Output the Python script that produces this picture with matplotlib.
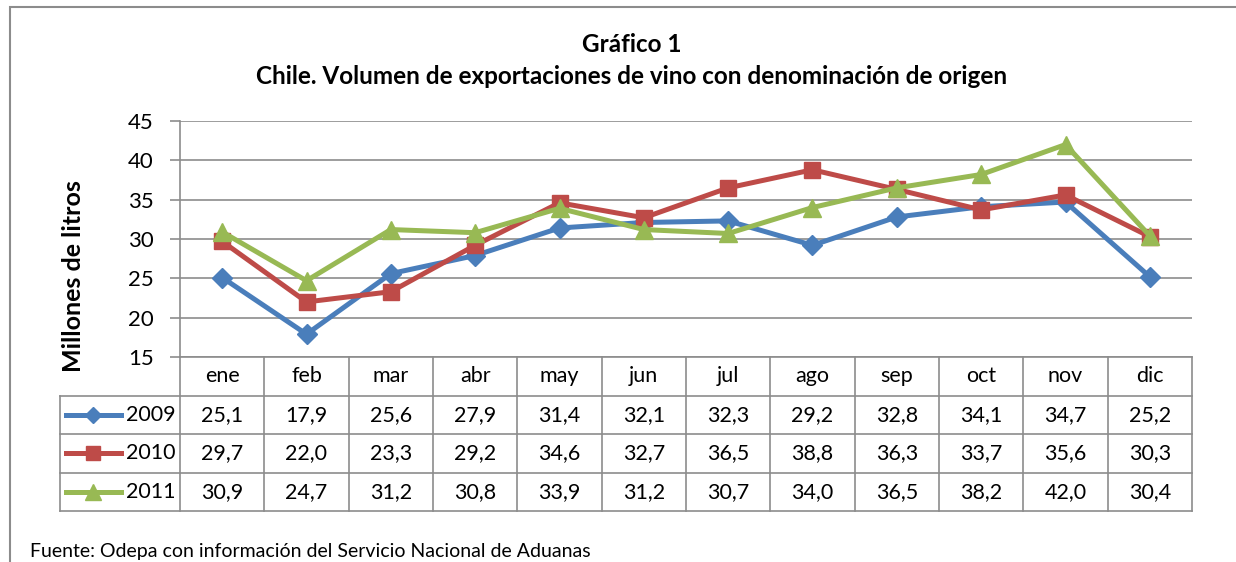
import matplotlib.pyplot as plt
from matplotlib.patches import Rectangle
from matplotlib.lines import Line2D
from matplotlib.transforms import blended_transform_factory

plt.rcParams['font.family'] = ['Lato', 'DejaVu Sans']

meses = ['ene', 'feb', 'mar', 'abr', 'may', 'jun', 'jul', 'ago', 'sep', 'oct', 'nov', 'dic']
anios = ['2009', '2010', '2011']
v2009 = [25.1, 17.9, 25.6, 27.9, 31.4, 32.1, 32.3, 29.2, 32.8, 34.1, 34.7, 25.2]
v2010 = [29.7, 22.0, 23.3, 29.2, 34.6, 32.7, 36.5, 38.8, 36.3, 33.7, 35.6, 30.3]
v2011 = [30.9, 24.7, 31.2, 30.8, 33.9, 31.2, 30.7, 34.0, 36.5, 38.2, 42.0, 30.4]
y_ticks = [15, 20, 25, 30, 35, 40, 45]

colores = ['#4A7EBB', '#BE4B48', '#98B954']
marcadores = ['D', 's', '^']
tam_marc = [10, 12, 13]
series = [v2009, v2010, v2011]

W, H = 1236, 562
fig = plt.figure(figsize=(W / 100, H / 100), dpi=100)
ax = fig.add_axes([180 / W, 1 - 357 / H, 1012 / W, 236 / H])

x = list(range(len(meses)))
for vals, c, m, ms in zip(series, colores, marcadores, tam_marc):
    ax.plot(x, vals, color=c, lw=3.6, marker=m, ms=ms, zorder=3, clip_on=False)

ax.set_xlim(-0.5, 11.5)
ax.set_ylim(15, 45)
ax.set_yticks(y_ticks)
ax.set_xticks([])
ax.grid(axis='y', color='#8c8c8c', lw=1.2)
ax.set_axisbelow(True)
for s in ['top', 'right', 'bottom']:
    ax.spines[s].set_visible(False)
ax.spines['left'].set_color('#8c8c8c')
ax.spines['left'].set_linewidth(1.2)
ax.tick_params(axis='y', length=7, color='#8c8c8c', width=1.2, labelsize=16, pad=12)
ax.set_ylabel('Millones de litros', fontsize=18, fontweight='bold')
ax.yaxis.set_label_coords((85 - 180) / 1012, (357 - 276) / 236)

# tabla de datos
tr = blended_transform_factory(ax.transData, ax.transAxes)
rh = 38.5 / 236
xl = -0.5 - 120 / (1012 / 12)
gris = '#8c8c8c'
kw = dict(color=gris, lw=1.2, transform=tr, clip_on=False)
# líneas horizontales
ax.add_line(Line2D([-0.5, 11.5], [0, 0], **kw))
for r in range(1, 5):
    ax.add_line(Line2D([xl, 11.5], [-r * rh, -r * rh], **kw))
# líneas verticales
ax.add_line(Line2D([xl, xl], [-rh, -4 * rh], **kw))
for i in range(13):
    ax.add_line(Line2D([i - 0.5, i - 0.5], [0, -4 * rh], **kw))
for i, mes in enumerate(meses):
    ax.text(i, -0.5 * rh, mes, transform=tr, ha='center', va='center', fontsize=15.5)
for r, (anio, vals, c, m, ms) in enumerate(zip(anios, series, colores, marcadores, tam_marc)):
    yc = -(r + 1.5) * rh
    for i, v in enumerate(vals):
        ax.text(i, yc, f'{v:.1f}'.replace('.', ','), transform=tr, ha='center', va='center', fontsize=15.5)
    ax.add_line(Line2D([xl + 0.07, xl + 0.72], [yc, yc], color=c, lw=3.6, transform=tr, clip_on=False))
    ax.add_line(Line2D([xl + 0.395], [yc], color=c, marker=m, ms=ms * 0.85, lw=0, transform=tr, clip_on=False))
    ax.text(-0.55, yc, anio, transform=tr, ha='right', va='center', fontsize=15.5)

# títulos
fig.text(632 / W, 1 - 45 / H, 'Gráfico 1', ha='center', va='center', fontsize=17.5, fontweight='bold')
fig.text(632 / W, 1 - 76 / H, 'Chile. Volumen de exportaciones de vino con denominación de origen',
         ha='center', va='center', fontsize=17.5, fontweight='bold')
fig.text(30 / W, 1 - 552 / H, 'Fuente: Odepa con información del Servicio Nacional de Aduanas',
         ha='left', va='center', fontsize=14)

# marco exterior
fig.patches.append(Rectangle((10 / W, -0.1), 1.2, 1.1 - 7 / H, transform=fig.transFigure,
                             fill=False, edgecolor='#8c8c8c', lw=1.5))

fig.savefig('out.png', dpi=100)
